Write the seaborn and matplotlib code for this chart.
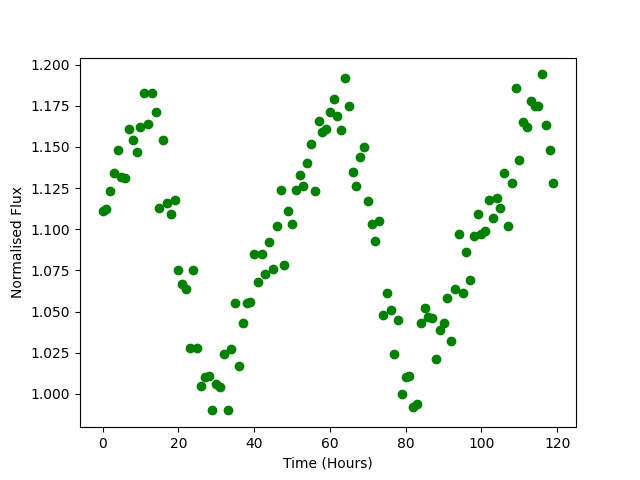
"""
Light curve scatter: normalised flux against time.
"""
import matplotlib
matplotlib.use("Agg")
import matplotlib.pyplot as plt
import seaborn as sns

# Time stamps (hours)
hours = [
    0, 1, 2, 3, 4, 5, 6, 7, 8, 9, 10, 11, 12, 13, 14, 15, 16, 17, 18, 19,
    20, 21, 22, 23, 24, 25, 26, 27, 28, 29, 30, 31, 32, 33, 34, 35, 36, 37, 38, 39,
    40, 41, 42, 43, 44, 45, 46, 47, 48, 49, 50, 51, 52, 53, 54, 55, 56, 57, 58, 59,
    60, 61, 62, 63, 64, 65, 66, 67, 68, 69, 70, 71, 72, 73, 74, 75, 76, 77, 78, 79,
    80, 81, 82, 83, 84, 85, 86, 87, 88, 89, 90, 91, 92, 93, 94, 95, 96, 97, 98, 99,
    100, 101, 102, 103, 104, 105, 106, 107, 108, 109, 110, 111, 112, 113, 114, 115, 116, 117, 118, 119,
]

# Normalised flux
flux = [
    1.111, 1.112, 1.123, 1.134, 1.148, 1.132, 1.131, 1.161, 1.154, 1.147,
    1.162, 1.183, 1.164, 1.183, 1.171, 1.113, 1.154, 1.116, 1.109, 1.118,
    1.075, 1.067, 1.064, 1.028, 1.075, 1.028, 1.005, 1.010, 1.011, 0.990,
    1.006, 1.004, 1.024, 0.990, 1.027, 1.055, 1.017, 1.043, 1.055, 1.056,
    1.085, 1.068, 1.085, 1.073, 1.092, 1.076, 1.102, 1.124, 1.078, 1.111,
    1.103, 1.124, 1.133, 1.126, 1.140, 1.152, 1.123, 1.166, 1.159, 1.161,
    1.171, 1.179, 1.169, 1.160, 1.192, 1.175, 1.135, 1.126, 1.144, 1.150,
    1.117, 1.103, 1.093, 1.105, 1.048, 1.061, 1.051, 1.024, 1.045, 1.000,
    1.010, 1.011, 0.992, 0.994, 1.043, 1.052, 1.047, 1.046, 1.021, 1.039,
    1.043, 1.058, 1.032, 1.064, 1.097, 1.061, 1.086, 1.069, 1.096, 1.109,
    1.097, 1.099, 1.118, 1.107, 1.119, 1.113, 1.134, 1.102, 1.128, 1.186,
    1.142, 1.165, 1.162, 1.178, 1.175, 1.175, 1.194, 1.163, 1.148, 1.128,
]

fig, ax = plt.subplots(figsize=(6.4, 4.8), dpi=100)
sns.scatterplot(
    x=hours,
    y=flux,
    ax=ax,
    color="green",
    s=36,
    edgecolor="green",
    linewidth=1,
)
ax.set_xlabel("Time (Hours)")
ax.set_ylabel("Normalised Flux")

fig.savefig("out.png", dpi=100)
